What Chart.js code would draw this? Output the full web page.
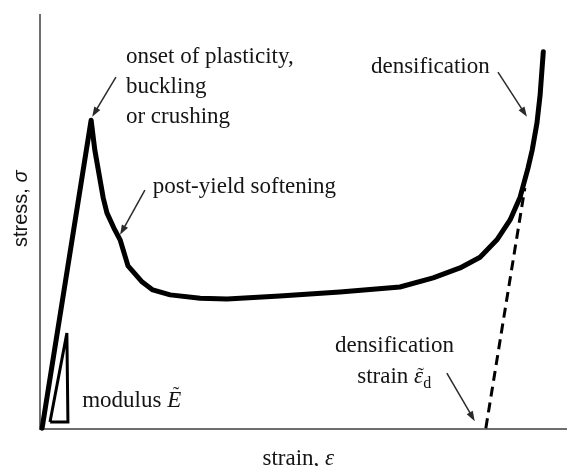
<!DOCTYPE html>
<html>
<head>
<meta charset="utf-8">
<script src="https://cdn.jsdelivr.net/npm/chart.js@4.4.1/dist/chart.umd.min.js"></script>
<style>
  html, body { margin: 0; background: #fff; }
  #wrap { width: 567px; height: 466px; }
</style>
</head>
<body>
<div id="wrap"><canvas id="chart"></canvas></div>
<script>
// stress-strain curve (arbitrary units, 0..100 on both axes)
const strain = [0.4, 9.7, 10.4, 12.0, 12.7, 14.0, 15.2, 16.7, 19.4, 21.4, 24.7, 30.4, 35.5, 45.5, 56.9, 68.3, 74.6, 79.7, 83.5, 86.7, 89.2, 91.1, 92.6, 93.4, 94.3, 94.9, 95.5]
const stress = [0.2, 74.6, 67.4, 55.8, 52.2, 48.6, 45.7, 39.4, 35.5, 33.6, 32.4, 31.6, 31.4, 32.1, 33.1, 34.3, 36.5, 38.9, 41.5, 45.7, 50.5, 56.0, 63.0, 67.4, 73.9, 80.7, 91.1]

// dashed tangent giving the densification strain
const densStrain = [84.6, 92.0]
const densStress = [0.2, 58.2]

// little modulus triangle
const modStrain = [1.9, 5.3, 5.1, 1.9]
const modStress = [1.7, 1.7, 23.2, 1.7]

// annotation arrows (tail -> head)
const arrowTail = [[14.4, 85.0], [19.9, 57.7], [86.9, 86.2], [77.2, 13.5]]
const arrowHead = [[9.9, 75.4], [15.2, 46.9], [92.4, 75.4], [82.5, 1.9]]

// plain annotation text, anchored at left/baseline
const noteText = ['onset of plasticity,', 'buckling', 'or crushing', 'post-yield softening', 'densification', 'densification']
const noteAt = [[16.3, 88.4], [16.3, 81.2], [16.3, 73.9], [21.4, 57.0], [62.8, 86.0], [56.0, 18.6]]

const toPoints = (xs, ys) => xs.map((x, i) => ({ x, y: ys[i] }))

const SERIF = '"Liberation Serif", "Times New Roman", serif'
const SANS = '"Liberation Sans", Arial, sans-serif'
const INK = '#141414'

// draw a list of [text, font, dy] runs one after another, returns end x
const drawRuns = (ctx, runs, x, y) => {
  runs.forEach(([text, font, dy = 0]) => {
    ctx.font = font
    ctx.fillText(text, x, y + dy)
    x += ctx.measureText(text).width
  })
  return x
}

// italic letter with a tilde drawn over it
const drawTilded = (ctx, letter, font, x, y, lift) => {
  ctx.font = font
  ctx.fillText(letter, x, y)
  const w = ctx.measureText(letter).width
  ctx.font = `20px ${SERIF}`
  ctx.textAlign = 'center'
  ctx.fillText('\u02DC', x + w / 2 + 2, y - lift)
  ctx.textAlign = 'left'
  return x + w
}

const annotations = {
  id: 'annotations',
  afterDatasetsDraw(chart) {
    const { ctx, chartArea, scales: { x, y } } = chart
    ctx.save()

    // arrows
    ctx.strokeStyle = '#2a2a2a'
    ctx.fillStyle = '#2a2a2a'
    ctx.lineWidth = 1.5
    arrowTail.forEach((t, i) => {
      const x0 = x.getPixelForValue(t[0]), y0 = y.getPixelForValue(t[1])
      const x1 = x.getPixelForValue(arrowHead[i][0]), y1 = y.getPixelForValue(arrowHead[i][1])
      const a = Math.atan2(y1 - y0, x1 - x0)
      const len = 10, wid = 3.5
      ctx.beginPath()
      ctx.moveTo(x0, y0)
      ctx.lineTo(x1 - Math.cos(a) * len * 0.8, y1 - Math.sin(a) * len * 0.8)
      ctx.stroke()
      ctx.beginPath()
      ctx.moveTo(x1, y1)
      ctx.lineTo(x1 - Math.cos(a) * len - Math.sin(a) * wid, y1 - Math.sin(a) * len + Math.cos(a) * wid)
      ctx.lineTo(x1 - Math.cos(a) * len + Math.sin(a) * wid, y1 - Math.sin(a) * len - Math.cos(a) * wid)
      ctx.closePath()
      ctx.fill()
    })

    // text
    ctx.fillStyle = INK
    ctx.textBaseline = 'alphabetic'
    ctx.textAlign = 'left'
    ctx.font = `23px ${SERIF}`
    noteText.forEach((t, i) => {
      ctx.fillText(t, x.getPixelForValue(noteAt[i][0]), y.getPixelForValue(noteAt[i][1]))
    })

    let px = drawRuns(ctx, [['modulus ', `23px ${SERIF}`]], x.getPixelForValue(8.0), y.getPixelForValue(5.3))
    drawTilded(ctx, 'E', `italic 23px ${SERIF}`, px, y.getPixelForValue(5.3), 6)

    const sy = y.getPixelForValue(11.1)
    px = drawRuns(ctx, [['strain ', `23px ${SERIF}`]], x.getPixelForValue(60.2), sy)
    px = drawTilded(ctx, '\u03B5', `italic 23px ${SERIF}`, px, sy, 1)
    drawRuns(ctx, [['d', `16px ${SERIF}`, 5]], px, sy)

    // axis titles
    drawRuns(ctx, [
      ['strain, ', `23px ${SERIF}`],
      ['\u03B5', `italic 23px ${SERIF}`]
    ], (chartArea.left + chartArea.right) / 2 - 41, chartArea.bottom + 36)

    ctx.translate(chartArea.left - 13, 247)
    ctx.rotate(-Math.PI / 2)
    drawRuns(ctx, [
      ['stress, ', `20px ${SANS}`],
      ['\u03C3', `italic 20px ${SANS}`]
    ], 0, 0)

    ctx.restore()
  }
}

new Chart(document.getElementById('chart'), {
  type: 'line',
  data: {
    datasets: [
      {
        data: toPoints(strain, stress),
        borderColor: '#000',
        borderWidth: 5,
        borderJoinStyle: 'round',
        borderCapStyle: 'round',
        pointRadius: 0,
        tension: 0,
        clip: false
      },
      {
        data: toPoints(densStrain, densStress),
        borderColor: '#000',
        borderWidth: 3,
        borderDash: [10, 6],
        pointRadius: 0,
        clip: false
      },
      {
        data: toPoints(modStrain, modStress),
        borderColor: '#000',
        borderWidth: 3,
        borderJoinStyle: 'miter',
        pointRadius: 0,
        clip: false
      }
    ]
  },
  options: {
    responsive: true,
    maintainAspectRatio: false,
    animation: false,
    events: [],
    layout: { padding: { left: 32, top: 15, right: 0, bottom: 29 } },
    plugins: { legend: { display: false }, tooltip: { enabled: false } },
    scales: {
      x: {
        type: 'linear', min: 0, max: 100,
        grid: { display: false },
        ticks: { display: false },
        border: { display: true, color: '#6e6e6e', width: 2 }
      },
      y: {
        type: 'linear', min: 0, max: 100,
        grid: { display: false },
        ticks: { display: false },
        border: { display: true, color: '#6e6e6e', width: 2 }
      }
    }
  },
  plugins: [annotations]
})
</script>
</body>
</html>
